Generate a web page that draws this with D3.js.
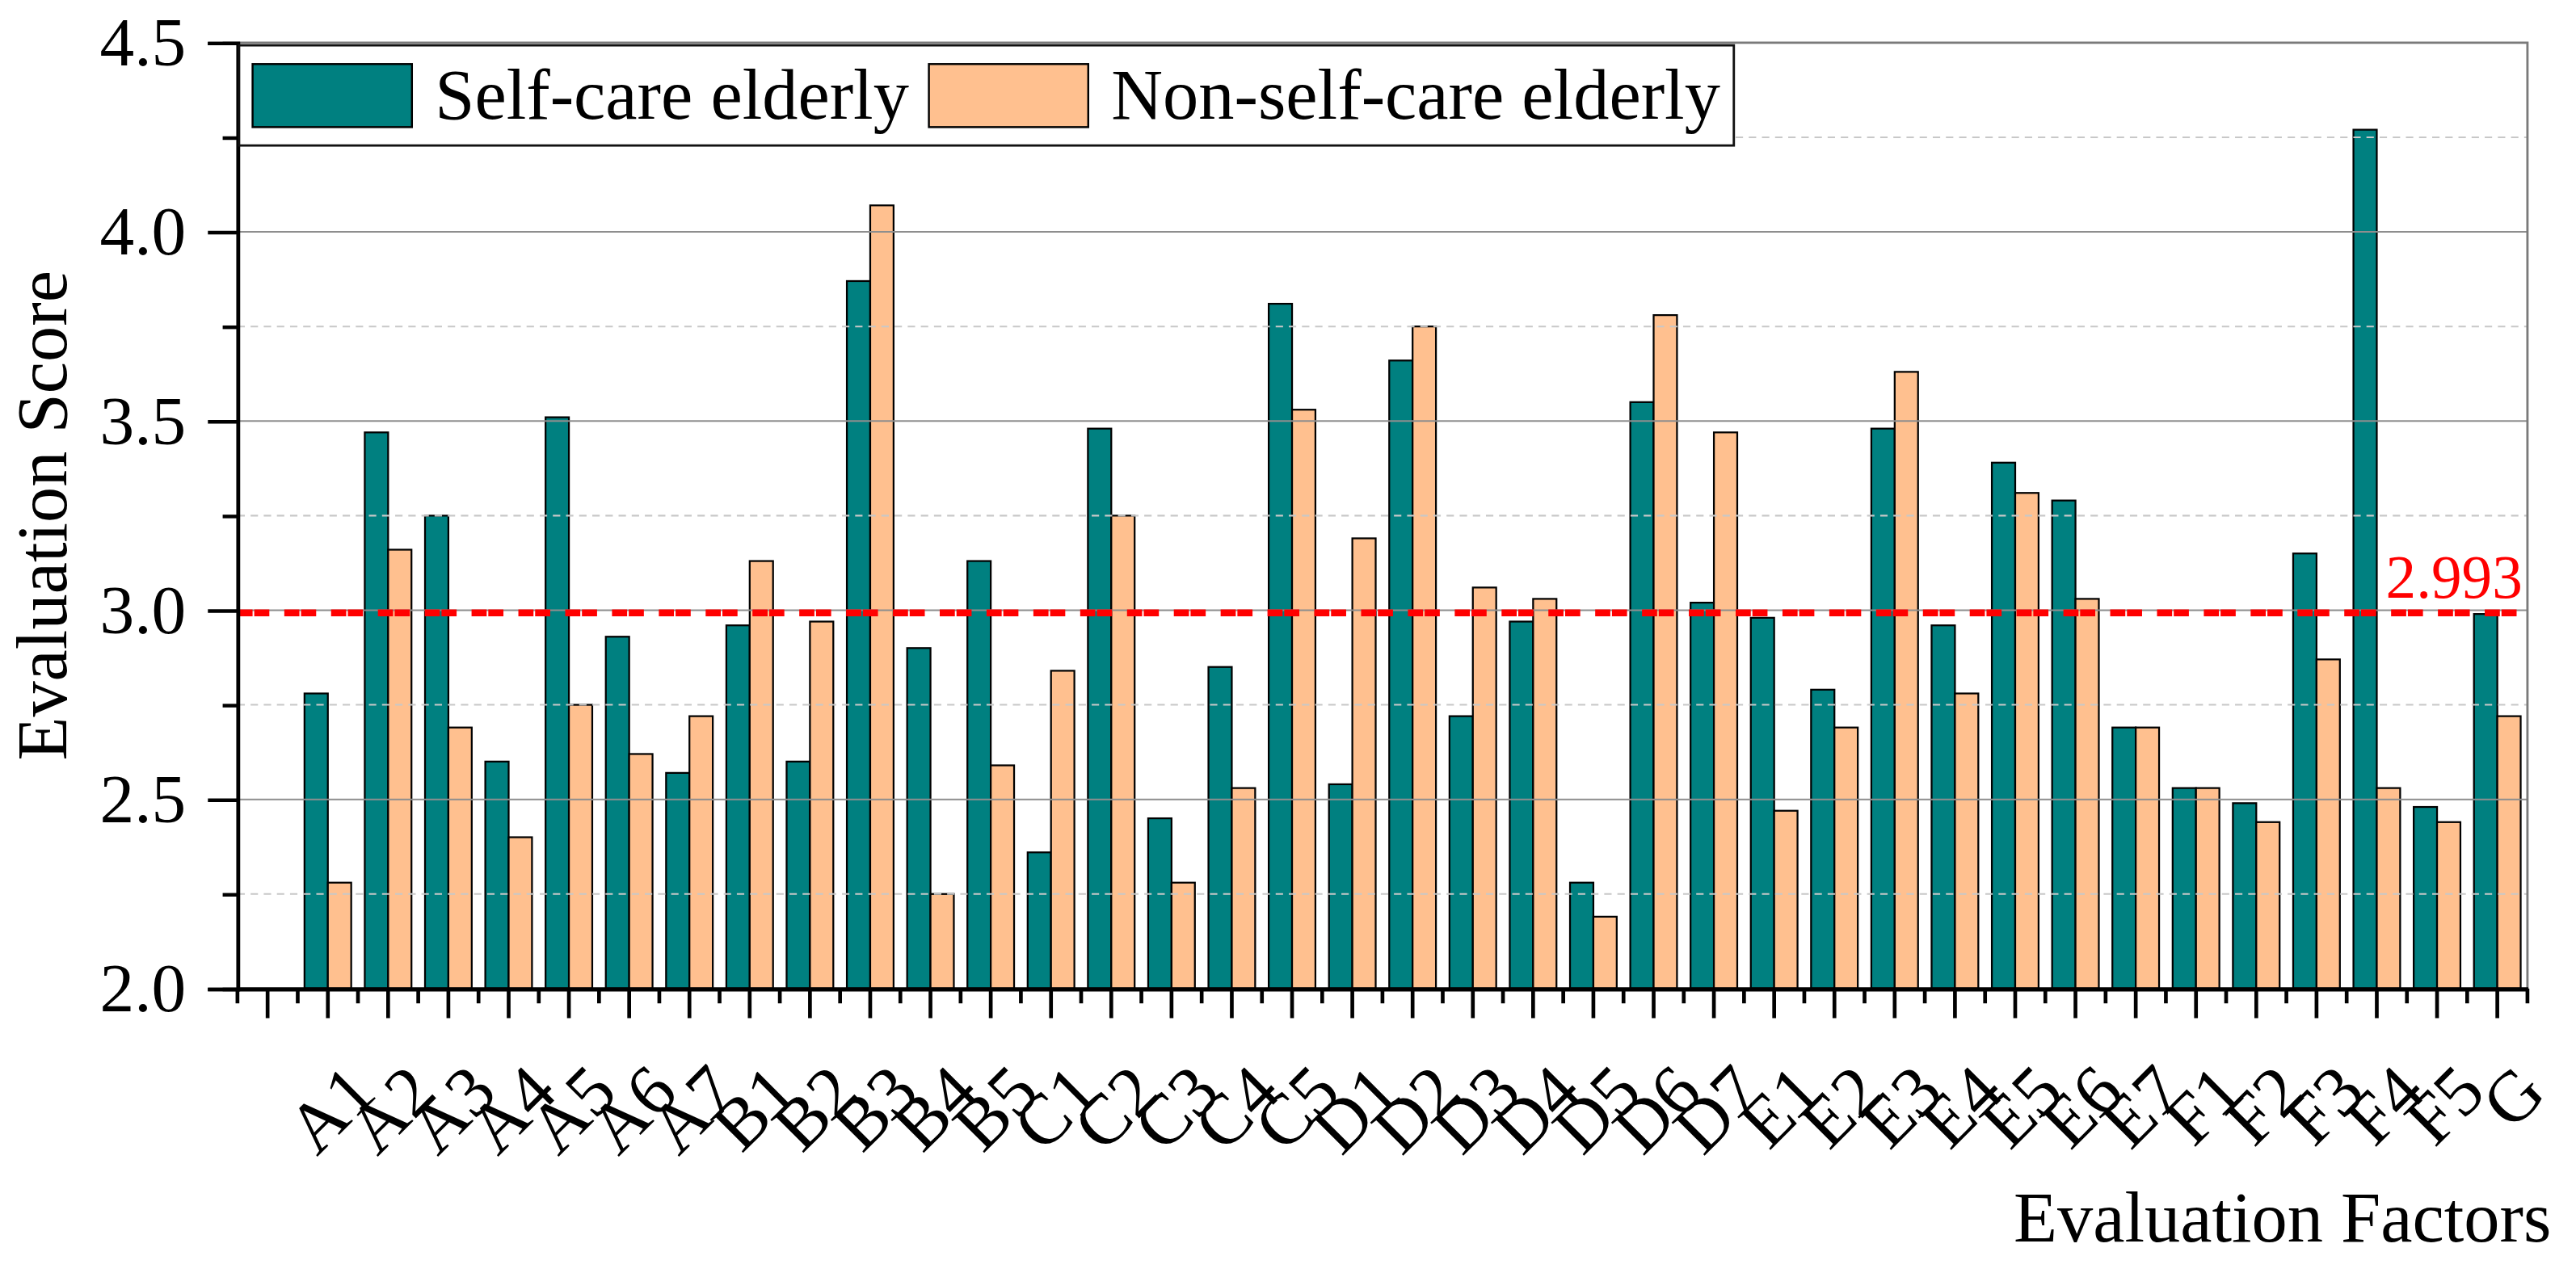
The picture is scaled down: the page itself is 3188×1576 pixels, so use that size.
<!DOCTYPE html>
<html>
<head>
<meta charset="utf-8">
<script src="https://cdn.jsdelivr.net/npm/d3@7"></script>
<style>
  html, body { margin: 0; padding: 0; background: #fff; }
  svg { display: block; font-family: "Liberation Serif", "Times New Roman", serif; }
</style>
</head>
<body>
<svg id="chart"></svg>
<script>
// Evaluation factors (a blank slot sits before A1 on the axis)
const factors = ["A1", "A2", "A3", "A4", "A5", "A6", "A7",
    "B1", "B2", "B3", "B4", "B5",
    "C1", "C2", "C3", "C4", "C5",
    "D1", "D2", "D3", "D4", "D5", "D6", "D7",
    "E1", "E2", "E3", "E4", "E5", "E6", "E7",
    "F1", "F2", "F3", "F4", "F5", "G"];

const seriesNames = ["Self-care elderly", "Non-self-care elderly"];
const seriesColors = ["#008080", "#FFC08F"];

const selfCare = [2.78, 3.47, 3.25, 2.60, 3.51, 2.93, 2.57,
    2.96, 2.60, 3.87, 2.90, 3.13,
    2.36, 3.48, 2.45, 2.85, 3.81,
    2.54, 3.66, 2.72, 2.97, 2.28, 3.55, 3.02,
    2.98, 2.79, 3.48, 2.96, 3.39, 3.29, 2.69,
    2.53, 2.49, 3.15, 4.27, 2.48, 2.99];

const nonSelfCare = [2.28, 3.16, 2.69, 2.40, 2.75, 2.62, 2.72,
    3.13, 2.97, 4.07, 2.25, 2.59,
    2.84, 3.25, 2.28, 2.53, 3.53,
    3.19, 3.75, 3.06, 3.03, 2.19, 3.78, 3.47,
    2.47, 2.69, 3.63, 2.78, 3.31, 3.03, 2.69,
    2.53, 2.44, 2.87, 2.53, 2.44, 2.72];

const meanScore = 2.993;

const yMajorTicks = [2.0, 2.5, 3.0, 3.5, 4.0, 4.5];
const yMinorTicks = [2.25, 2.75, 3.25, 3.75, 4.25];

// drawing in a 1568-wide coordinate space, scaled up to the window
const W = 1568, H = 775.2;
const plot = { left: 144.5, right: 1538.5, top: 26, bottom: 602 };

const svg = d3.select("#chart")
    .attr("width", 3188)
    .attr("height", 1576)
    .attr("viewBox", `0 0 ${W} ${H}`);

const xDomain = [""].concat(factors);

const x0 = d3.scaleBand()
    .domain(xDomain)
    .range([plot.left, plot.right])
    .paddingInner(0)
    .paddingOuter(0);

const x1 = d3.scaleBand()
    .domain(seriesNames)
    .range([0, x0.bandwidth()])
    .paddingInner(0)
    .paddingOuter(0.29);

const y = d3.scaleLinear()
    .domain([2.0, 4.5])
    .range([plot.bottom, plot.top]);

const rows = factors.map((f, i) => ({
    factor: f,
    values: [
        { series: seriesNames[0], value: selfCare[i] },
        { series: seriesNames[1], value: nonSelfCare[i] }
    ]
}));

const color = d3.scaleOrdinal().domain(seriesNames).range(seriesColors);

// bars
const barG = svg.append("g");
barG.selectAll("g.group")
    .data(rows)
    .enter()
    .append("g")
    .attr("class", "group")
    .attr("transform", d => `translate(${x0(d.factor)},0)`)
    .selectAll("rect")
    .data(d => d.values)
    .enter()
    .append("rect")
    .attr("x", d => x1(d.series))
    .attr("y", d => y(d.value))
    .attr("width", x1.bandwidth())
    .attr("height", d => y(2.0) - y(d.value))
    .attr("fill", d => color(d.series))
    .attr("stroke", "#000")
    .attr("stroke-width", 1.1);

// grid lines drawn over the bars, as in the original
const gridG = svg.append("g");
gridG.selectAll("line.minor")
    .data(yMinorTicks)
    .enter()
    .append("line")
    .attr("x1", plot.left)
    .attr("x2", plot.right)
    .attr("y1", d => y(d))
    .attr("y2", d => y(d))
    .attr("stroke", "#c8c8c8")
    .attr("stroke-width", 1)
    .attr("stroke-dasharray", "4.5,3.5");

gridG.selectAll("line.major")
    .data(yMajorTicks.filter(d => d > 2.0 && d < 4.5))
    .enter()
    .append("line")
    .attr("x1", plot.left)
    .attr("x2", plot.right)
    .attr("y1", d => y(d))
    .attr("y2", d => y(d))
    .attr("stroke", "#8e8e8e")
    .attr("stroke-width", 1);

// mean line
svg.append("line")
    .attr("x1", plot.left)
    .attr("x2", plot.right)
    .attr("y1", y(meanScore))
    .attr("y2", y(meanScore))
    .attr("stroke", "#ff0000")
    .attr("stroke-width", 4.2)
    .attr("stroke-dasharray", "9.2,1,9.2,9.1");

svg.append("text")
    .attr("x", plot.right - 3)
    .attr("y", 364)
    .attr("text-anchor", "end")
    .attr("fill", "#ff0000")
    .style("font-size", "37px")
    .text(d3.format(".3f")(meanScore));

// top and right frame
svg.append("path")
    .attr("d", `M${plot.left},${plot.top}H${plot.right}V${plot.bottom}`)
    .attr("fill", "none")
    .attr("stroke", "#7a7a7a")
    .attr("stroke-width", 1.4);

// y axis
const yAxis = svg.append("g")
    .attr("transform", `translate(${plot.left},0)`)
    .call(d3.axisLeft(y)
        .tickValues(yMajorTicks)
        .tickSize(18)
        .tickPadding(13.3)
        .tickFormat(d3.format(".1f")));

const yMinorAxis = svg.append("g")
    .attr("transform", `translate(${plot.left},0)`)
    .call(d3.axisLeft(y)
        .tickValues(yMinorTicks)
        .tickSize(9)
        .tickFormat(""));

[yAxis, yMinorAxis].forEach(g => {
    g.select(".domain").attr("stroke", "#000").attr("stroke-width", 2.2);
    g.selectAll(".tick line").attr("stroke", "#000").attr("stroke-width", 2.2);
});
yAxis.selectAll(".tick text")
    .attr("fill", "#000")
    .style("font-family", "'Liberation Serif', 'Times New Roman', serif")
    .style("font-size", "42px");

// x axis: long ticks at category centres, short ticks at band edges
const xAxis = svg.append("g")
    .attr("transform", `translate(0,${plot.bottom})`)
    .call(d3.axisBottom(x0)
        .tickSize(18)
        .tickSizeOuter(0)
        .tickPadding(0));

xAxis.select(".domain").attr("stroke", "#000").attr("stroke-width", 2.5);
xAxis.selectAll(".tick line").attr("stroke", "#000").attr("stroke-width", 2.3);
xAxis.selectAll(".tick text")
    .attr("x", 0)
    .attr("y", 0)
    .attr("dy", 0)
    .attr("text-anchor", "end")
    .attr("transform", "translate(31,65) rotate(-45)")
    .attr("fill", "#000")
    .style("font-family", "'Liberation Serif', 'Times New Roman', serif")
    .style("font-size", "43.5px");

const bandEdges = xDomain.map(d => x0(d)).concat([plot.right]);
xAxis.selectAll("line.minor")
    .data(bandEdges)
    .enter()
    .append("line")
    .attr("class", "minor")
    .attr("x1", d => d)
    .attr("x2", d => d)
    .attr("y1", 0)
    .attr("y2", 9)
    .attr("stroke", "#000")
    .attr("stroke-width", 2.3);

// axis titles
svg.append("text")
    .attr("transform", `translate(40.2,${(plot.top + plot.bottom) / 2}) rotate(-90)`)
    .attr("text-anchor", "middle")
    .style("font-size", "43.5px")
    .text("Evaluation Score");

svg.append("text")
    .attr("x", 1553)
    .attr("y", 756)
    .attr("text-anchor", "end")
    .style("font-size", "43.5px")
    .text("Evaluation Factors");

// legend
const legend = svg.append("g");
legend.append("rect")
    .attr("x", plot.left + 1)
    .attr("y", 27.6)
    .attr("width", 1055.4 - plot.left - 1)
    .attr("height", 61)
    .attr("fill", "#fff")
    .attr("stroke", "#111")
    .attr("stroke-width", 1.4);

const legendX = [153.7, 565.4];
const legendItems = legend.selectAll("g.item")
    .data(seriesNames)
    .enter()
    .append("g")
    .attr("class", "item")
    .attr("transform", (d, i) => `translate(${legendX[i]},0)`);

legendItems.append("rect")
    .attr("x", 0)
    .attr("y", 39)
    .attr("width", 97)
    .attr("height", 38.4)
    .attr("fill", d => color(d))
    .attr("stroke", "#000")
    .attr("stroke-width", 1.2);

legendItems.append("text")
    .attr("x", 111)
    .attr("y", 72.4)
    .style("font-size", "43.5px")
    .text(d => d);
</script>
</body>
</html>
